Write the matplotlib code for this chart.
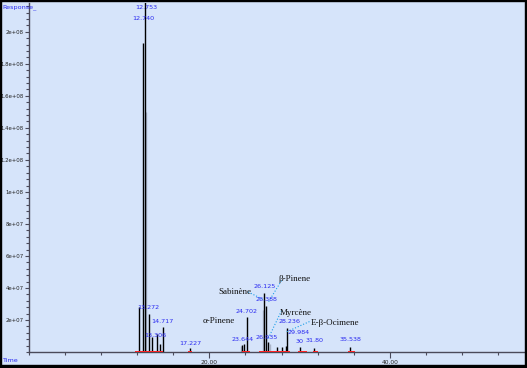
import matplotlib
matplotlib.use("Agg")
import numpy as np
import matplotlib.pyplot as plt
from matplotlib.ticker import FixedLocator, MultipleLocator
from matplotlib.patches import Rectangle

# chromatogram peaks (retention time in min, response)
peak_times = [12.22, 12.62, 12.90, 13.27, 13.60, 14.15, 14.50, 14.81, 17.84,
              23.60, 23.85, 24.12, 26.07, 26.30, 26.55, 27.50, 28.00, 28.50,
              28.66, 30.00, 31.60, 35.60]
peak_heights = [2.8e7, 1.93e8, 2.35e8, 2.4e7, 9.6e6, 1.1e7, 5.0e6, 1.58e7, 2.5e6,
                4.4e6, 5.0e6, 2.2e7, 3.7e7, 2.9e7, 6.0e6, 3.0e6, 3.0e6, 4.0e6,
                1.5e7, 3.0e6, 2.5e6, 3.0e6]

# overlay trace drawn in grey
grey_times = [12.95, 23.50, 25.90, 26.70]
grey_heights = [1.5e8, 4.0e6, 2.6e7, 5.0e6]

# integration baselines (start, end)
base_start = [11.75, 17.60, 23.60, 25.50, 29.80, 31.50, 35.35]
base_end = [14.85, 18.05, 24.50, 28.90, 30.80, 32.00, 36.10]

# retention time labels
rt_labels = ["12.753", "12.740", "13.272", "13.306", "14.717", "17.227", "23.644",
             "24.702", "26.125", "26.388", "26.935", "28.236", "29.984", "30",
             "31.80", "35.538"]
rt_x = [13.0, 12.67, 13.26, 13.96, 14.81, 17.9, 23.66, 24.12, 26.1, 26.3, 26.4,
        28.87, 29.9, 30.0, 31.7, 35.6]
rt_y = [2.15e8, 2.085e8, 2.81e7, 1.06e7, 1.875e7, 5.6e6, 8.1e6, 2.56e7, 4.12e7,
        3.31e7, 8.75e6, 1.875e7, 1.19e7, 6.4e6, 7.0e6, 8.1e6]

# compound names, with leader lines (text pos, arrow end)
names = ["α-Pinene", "Sabinène", "β-Pinene", "Myrcène", "E-β-Ocimene"]
name_x = [21.0, 22.8, 29.4, 29.6, 33.9]
name_y = [1.94e7, 3.75e7, 4.56e7, 2.44e7, 1.81e7]
lead_x0 = [None, 24.3, 28.0, 28.0, 31.1]
lead_y0 = [None, 3.75e7, 4.46e7, 2.58e7, 1.9e7]
lead_x1 = [None, 25.9, 26.5, 26.45, 28.6]
lead_y1 = [None, 3.3e7, 3.08e7, 7.5e6, 1.27e7]

y_ticks = [2e7, 4e7, 6e7, 8e7, 1e8, 1.2e8, 1.4e8, 1.6e8, 1.8e8, 2e8]
y_tick_labels = ["2e+07", "4e+07", "6e+07", "8e+07", "1e+08", "1.2e+08",
                 "1.4e+08", "1.6e+08", "1.8e+08", "2e+08"]
x_ticks = [20, 40]
x_tick_labels = ["20.00", "40.00"]

bg = '#d6e4fa'
blue = '#2a2af0'
axcol = '#4a4a5a'

fig = plt.figure(figsize=(5.27, 3.68), dpi=100)
fig.patch.set_facecolor(bg)
ax = fig.add_axes([29/527, 16/368, 496/527, 349/368])
ax.set_facecolor(bg)

ax.vlines(grey_times, 0, grey_heights, color='#aab4c8', lw=1.0)
ax.vlines(peak_times, 0, peak_heights, color='black', lw=1.0)
ax.hlines([0]*len(base_start), base_start, base_end, color='#ff2020', lw=1.4, zorder=3)

for lab, x, y in zip(rt_labels, rt_x, rt_y):
    ax.text(x, y, lab, color=blue, fontsize=4.6, ha='center', va='center')

for i, nm in enumerate(names):
    ax.text(name_x[i], name_y[i], nm, fontsize=6.5, family='Liberation Serif',
            ha='center', va='center', color='#111111')
    if lead_x0[i] is not None:
        ax.plot([lead_x0[i], lead_x1[i]], [lead_y0[i], lead_y1[i]],
                color='#1a9ee8', lw=0.8, ls=':')

ax.set_xlim(0, 55)
ax.set_ylim(0, 2.18e8)

ax.yaxis.set_major_locator(FixedLocator(y_ticks))
ax.set_yticklabels(y_tick_labels)
ax.yaxis.set_minor_locator(MultipleLocator(4e6))
ax.xaxis.set_major_locator(FixedLocator(x_ticks))
ax.set_xticklabels(x_tick_labels)
ax.xaxis.set_minor_locator(MultipleLocator(4))

ax.tick_params(axis='both', which='major', labelsize=4.3, colors=axcol,
               labelcolor='#222222', length=4, width=0.8, pad=1.5)
ax.tick_params(axis='y', which='major', labelsize=3.9, length=3, pad=1)
ax.tick_params(axis='both', which='minor', colors=axcol, length=2.5, width=0.8)

for s in ['top', 'right']:
    ax.spines[s].set_visible(False)
for s in ['left', 'bottom']:
    ax.spines[s].set_color(axcol)
    ax.spines[s].set_linewidth(1.0)

fig.text(0.004, 1 - 7/368, "Response_", color=blue, fontsize=4.6, ha='left', va='center')
fig.text(0.004, 1 - 361/368, "Time", color=blue, fontsize=4.6, ha='left', va='center')

# black frame of the exported picture
fig.add_artist(Rectangle((0, 0), 1, 3.5/368, transform=fig.transFigure, color='black'))
fig.add_artist(Rectangle((1 - 2.5/527, 0), 2.5/527, 1, transform=fig.transFigure, color='black'))
fig.add_artist(Rectangle((0, 1 - 1/368), 1, 1/368, transform=fig.transFigure, color='black'))
fig.add_artist(Rectangle((0, 0), 1/527, 1, transform=fig.transFigure, color='black'))

fig.savefig("out.png", dpi=100, facecolor=bg)
